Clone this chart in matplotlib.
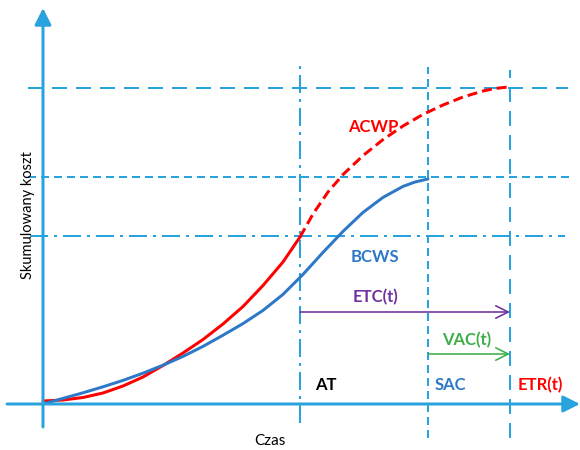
import matplotlib
matplotlib.use("Agg")
import matplotlib.pyplot as plt

plt.rcParams['lines.scale_dashes'] = False
plt.rcParams['font.family'] = ['Lato', 'DejaVu Sans']

# time (x) and cumulative cost (y) in chart units
bcws_t = [0, 20, 40, 60, 80, 100, 120, 140, 160, 180, 200, 220, 240, 260, 280,
          300, 320, 340, 360, 372, 385]
bcws_c = [0, 5.6, 11.2, 17.2, 23.6, 30.8, 38.8, 47.6, 57.6, 68.8, 80.4, 93.6, 109.6,
          129.6, 151.6, 172.6, 191.6, 206.6, 217.6, 222, 225]

acwp_t = [0, 20, 40, 60, 80, 100, 120, 140, 160, 180, 200, 220, 240, 257]
acwp_c = [3, 4, 6.5, 11, 18, 27, 38.5, 51, 64.5, 80, 97.5, 118.5, 142, 167]

acwp_fc_t = [257, 270, 285, 300, 320, 340, 360, 380, 400, 420, 440, 452, 465]
acwp_fc_c = [167, 190, 212, 229.4, 248.4, 264.4, 278, 289.6, 299, 307, 313, 315.5, 317]

AT, SAC, ETR = 257, 385, 467
EAC_level, BAC_level, AT_level = 316, 227, 168
etc_level, vac_level = 92, 50

AX = '#29A3DD'
RED = '#FF0000'
BLUE = '#2E78C8'
PURPLE = '#7030A0'
GREEN = '#3DAE49'

fig = plt.figure(figsize=(5.8, 4.5), dpi=100)
ax = fig.add_axes([0, 0, 1, 1])
ax.set_xlim(-43, 537)
ax.set_ylim(-46, 404)
ax.axis('off')

px = 0.72
long_dash = (0, (15 * px, 9 * px))
short_dash = (0, (8 * px, 5 * px))
dash_dot = (0, (18 * px, 6 * px, 3 * px, 6 * px))
rlw = 2 * px

# reference lines
ax.plot([-15, 525], [EAC_level, EAC_level], color=AX, lw=rlw, ls=long_dash)
ax.plot([-15, 527], [BAC_level, BAC_level], color=AX, lw=rlw, ls=short_dash)
ax.plot([-13, 522], [AT_level, AT_level], color=AX, lw=rlw, ls=dash_dot)
ax.plot([AT, AT], [-19, 341], color=AX, lw=rlw, ls=dash_dot)
ax.plot([SAC, SAC], [-34, 337], color=AX, lw=rlw, ls=short_dash)
ax.plot([ETR, ETR], [-34, 334], color=AX, lw=rlw, ls=long_dash)

# axes with arrows
ax.annotate('', xy=(537, 0), xytext=(-36, 0),
            arrowprops=dict(arrowstyle='-|>,head_length=1.0,head_width=0.5',
                            mutation_scale=10, lw=3 * px, color=AX,
                            shrinkA=0, shrinkB=0))
ax.annotate('', xy=(0, 396), xytext=(0, -23),
            arrowprops=dict(arrowstyle='-|>,head_length=1.0,head_width=0.5',
                            mutation_scale=10, lw=3 * px, color=AX,
                            shrinkA=0, shrinkB=0))

# curves
ax.plot(acwp_t, acwp_c, color=RED, lw=3 * px, solid_capstyle='round',
        solid_joinstyle='round')
ax.plot(acwp_fc_t, acwp_fc_c, color=RED, lw=3 * px, ls=(0, (10 * px, 5 * px)))
ax.plot(bcws_t, bcws_c, color=BLUE, lw=3 * px, solid_capstyle='round',
        solid_joinstyle='round')

# ETC / VAC arrows
ax.annotate('', xy=(ETR, etc_level), xytext=(AT, etc_level),
            arrowprops=dict(arrowstyle='->,head_length=0.9,head_width=0.45',
                            mutation_scale=10, lw=1.6 * px, color=PURPLE,
                            shrinkA=0, shrinkB=0))
ax.annotate('', xy=(ETR, vac_level), xytext=(SAC, vac_level),
            arrowprops=dict(arrowstyle='->,head_length=0.9,head_width=0.45',
                            mutation_scale=10, lw=1.6 * px, color=GREEN,
                            shrinkA=0, shrinkB=0))

fs = 12
ax.text(330, 277, 'ACWP', color=RED, fontsize=fs, fontweight='bold', ha='center', va='center')
ax.text(332, 147, 'BCWS', color=BLUE, fontsize=fs, fontweight='bold', ha='center', va='center')
ax.text(332, 107, 'ETC(t)', color=PURPLE, fontsize=fs, fontweight='bold', ha='center', va='center')
ax.text(424, 64, 'VAC(t)', color=GREEN, fontsize=fs, fontweight='bold', ha='center', va='center')
ax.text(283, 19, 'AT', color='black', fontsize=fs, fontweight='bold', ha='center', va='center')
ax.text(407, 19, 'SAC', color=BLUE, fontsize=fs, fontweight='bold', ha='center', va='center')
ax.text(497, 19, 'ETR(t)', color=RED, fontsize=fs, fontweight='bold', ha='center', va='center')

ax.text(227, -37, 'Czas', color='black', fontsize=11, ha='center', va='center')
ax.text(-15, 189, 'Skumulowany koszt', color='black', fontsize=10.5, ha='center', va='center',
        rotation=90)

fig.savefig('out.png', dpi=100)
